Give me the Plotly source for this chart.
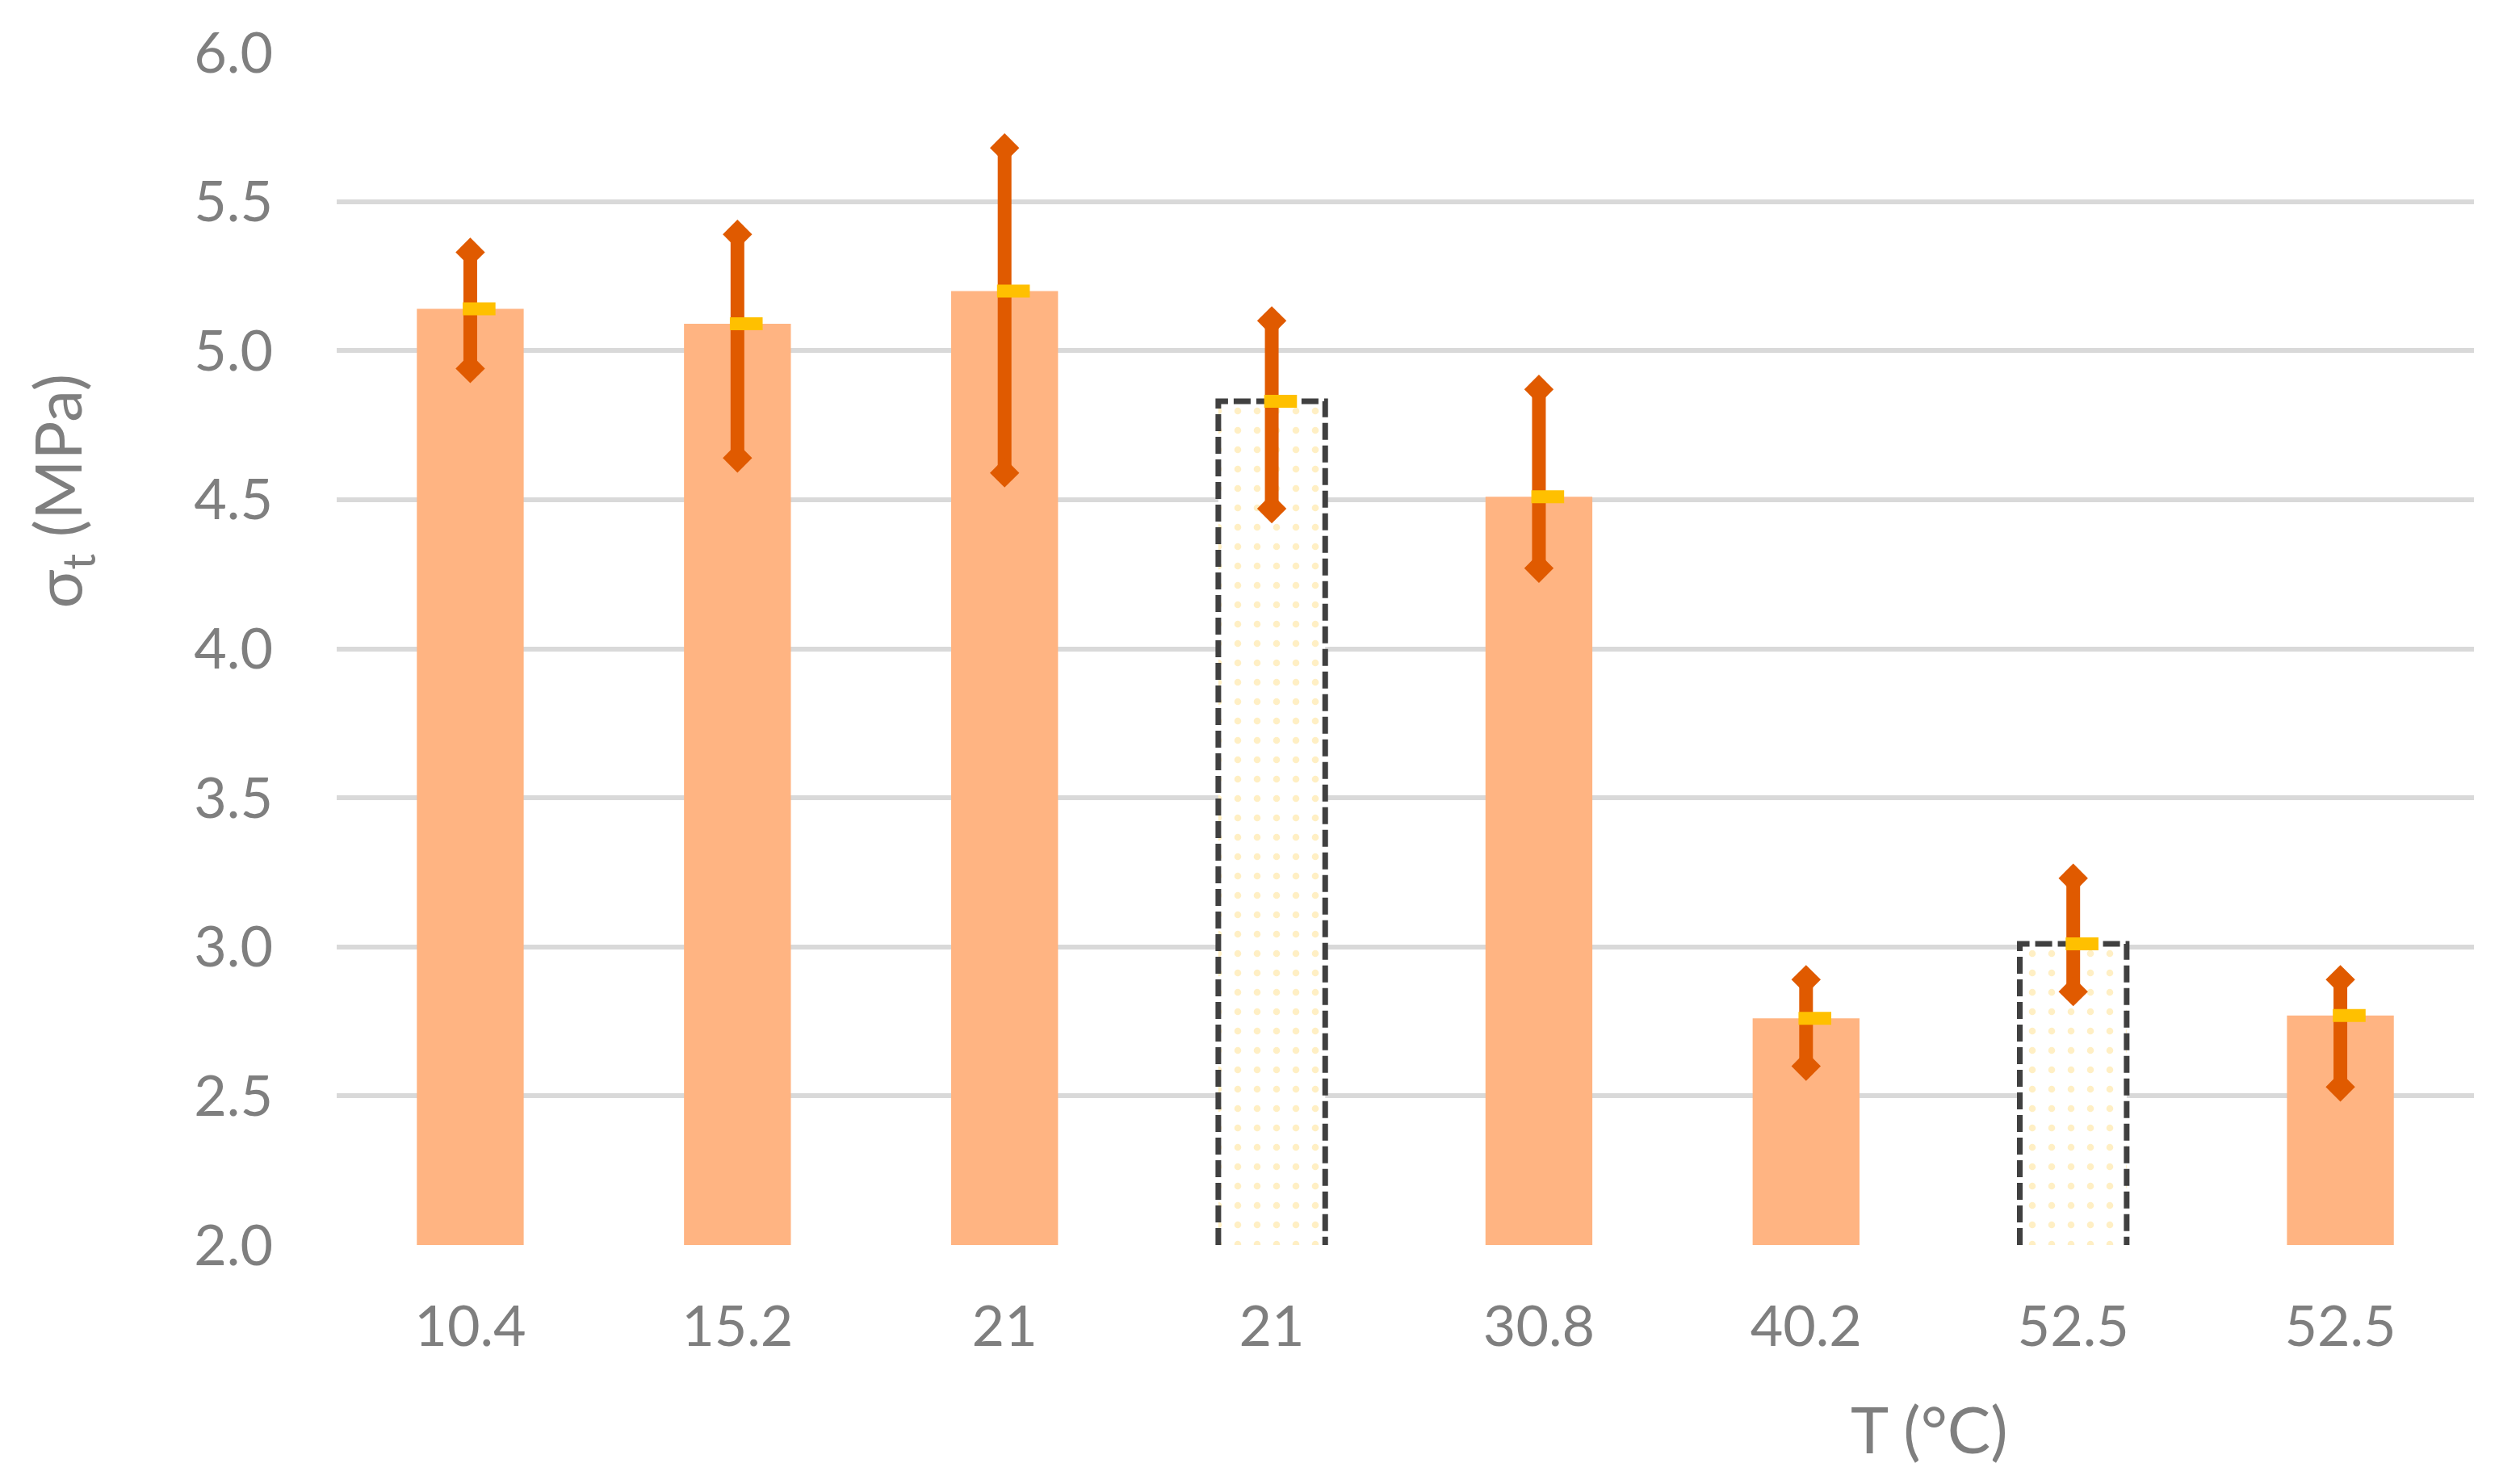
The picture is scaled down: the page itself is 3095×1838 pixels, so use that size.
import plotly.graph_objects as go

# ---- data ----
temps = ["10.4", "15.2", "21", "21", "30.8", "40.2", "52.5", "52.5"]
sigma_mean = [5.14, 5.09, 5.20, 4.83, 4.51, 2.76, 3.01, 2.77]
sigma_hi = [5.33, 5.39, 5.68, 5.10, 4.87, 2.89, 3.23, 2.89]
sigma_lo = [4.94, 4.64, 4.59, 4.47, 4.27, 2.60, 2.85, 2.53]
patterned = [False, False, False, True, False, False, True, False]
y_ticks = [2.0, 2.5, 3.0, 3.5, 4.0, 4.5, 5.0, 5.5, 6.0]

# ---- styles ----
BAR_COLOR = "#FFB482"
ERR_COLOR = "#E05A00"
MEAN_COLOR = "#FFC000"
DOT_COLOR = "#FFE08A"
OUTLINE_COLOR = "#404040"
GRID_COLOR = "#D9D9D9"
TEXT_COLOR = "#7F7F7F"
FONT = "Lato, 'Open Sans', sans-serif"
BAR_W = 0.40
MEAN_OFFSET = 0.033
Y_BASE = 2.0

idx = list(range(len(temps)))

fig = go.Figure()

# solid bars
solid_x = [i for i in idx if not patterned[i]]
solid_y = [sigma_mean[i] for i in idx if not patterned[i]]
fig.add_trace(go.Bar(
    x=solid_x, y=solid_y, width=BAR_W,
    marker=dict(color=BAR_COLOR, line=dict(width=0)),
    hoverinfo="skip", showlegend=False,
))

# dotted bars
pat_x = [i for i in idx if patterned[i]]
pat_y = [sigma_mean[i] for i in idx if patterned[i]]
fig.add_trace(go.Bar(
    x=pat_x, y=pat_y, width=BAR_W,
    marker=dict(
        color="white",
        line=dict(width=0),
        pattern=dict(shape=".", fgcolor=DOT_COLOR, bgcolor="white",
                     size=24, solidity=0.1, fillmode="overlay"),
    ),
    hoverinfo="skip", showlegend=False,
))

# dashed outlines for the dotted bars (derived from data)
ox, oy = [], []
for i in pat_x:
    v = sigma_mean[i]
    x0, x1 = i - BAR_W / 2, i + BAR_W / 2
    ox += [x0, x0, x1, x1, None]
    oy += [Y_BASE, v, v, Y_BASE, None]
fig.add_trace(go.Scatter(
    x=ox, y=oy, mode="lines",
    line=dict(color=OUTLINE_COLOR, width=7, dash="21px,7px"),
    hoverinfo="skip", showlegend=False, cliponaxis=False,
))

# error bars with diamond ends
ex, ey = [], []
for i in idx:
    ex += [i, i, None]
    ey += [sigma_lo[i], sigma_hi[i], None]
fig.add_trace(go.Scatter(
    x=ex, y=ey, mode="lines+markers",
    line=dict(color=ERR_COLOR, width=17),
    marker=dict(symbol="diamond", size=28, color=ERR_COLOR, line=dict(width=0)),
    hoverinfo="skip", showlegend=False, cliponaxis=False,
))

# mean markers
fig.add_trace(go.Scatter(
    x=[i + MEAN_OFFSET for i in idx], y=sigma_mean, mode="markers",
    marker=dict(symbol="line-ew", size=29,
                line=dict(color=MEAN_COLOR, width=16)),
    hoverinfo="skip", showlegend=False, cliponaxis=False,
))

fig.update_layout(
    width=3095, height=1838,
    margin=dict(l=409, r=39, t=51, b=304),
    plot_bgcolor="white", paper_bgcolor="white",
    bargap=0.6,
    font=dict(family=FONT, color=TEXT_COLOR, size=70),
    xaxis=dict(
        range=[-0.5, len(temps) - 0.5],
        tickmode="array", tickvals=idx, ticktext=temps,
        showgrid=False, zeroline=False, showline=False,
        ticks="outside", ticklen=40, tickcolor="rgba(0,0,0,0)",
        tickfont=dict(size=70, color=TEXT_COLOR, family=FONT),
    ),
    yaxis=dict(
        range=[2.0, 6.0],
        tickmode="array", tickvals=y_ticks,
        ticktext=[f"{v:.1f}" for v in y_ticks],
        showgrid=True, gridcolor=GRID_COLOR, gridwidth=6,
        zeroline=False, showline=False,
        ticks="outside", ticklen=64, tickcolor="rgba(0,0,0,0)",
        tickfont=dict(size=70, color=TEXT_COLOR, family=FONT),
    ),
    annotations=[
        dict(text="σ<sub>t</sub> (MPa)", xref="paper", yref="paper",
             x=0, xshift=-341, y=0.632, xanchor="center", yanchor="middle",
             textangle=-90, showarrow=False,
             font=dict(size=80, color=TEXT_COLOR, family=FONT)),
        dict(text="T (°C)", xref="paper", yref="paper",
             x=0.745, y=-0.154, xanchor="center", yanchor="middle",
             showarrow=False,
             font=dict(size=80, color=TEXT_COLOR, family=FONT)),
    ],
)

fig.write_html("out.html")
